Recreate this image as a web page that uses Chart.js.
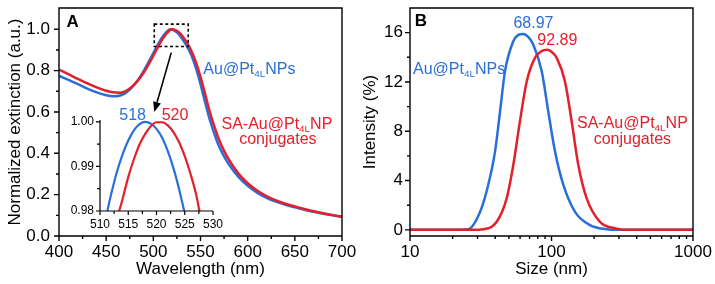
<!DOCTYPE html>
<html lang="en">
<head>
<meta charset="UTF-8">
<title>Extinction spectra and DLS size distribution</title>
<script src="https://cdn.jsdelivr.net/npm/chart.js@4.4.1/dist/chart.umd.min.js"></script>
<style>
  html, body { margin: 0; padding: 0; background: #fff; }
  #wrap { position: relative; width: 715px; height: 284px; overflow: hidden; }
  canvas { position: absolute; }
  #chartA { left: 0; top: 0; }
  #chartB { left: 357px; top: 0; }
  #inset { left: 62px; top: 112px; }
</style>
</head>
<body>
<div id="wrap">
  <canvas id="chartA" width="357" height="284"></canvas>
  <canvas id="chartB" width="358" height="284"></canvas>
  <canvas id="inset" width="170" height="125"></canvas>
</div>
<script>
// ---- panel A : normalized extinction ----
const waveA = [400, 410, 420, 430, 440, 450, 457, 465, 470, 475, 480, 485, 490, 495, 500, 505, 510, 515, 518, 520,
               525, 530, 535, 540, 545, 550, 555, 560, 565, 570, 575, 580, 590, 600, 610, 620, 630, 640, 650, 660,
               670, 680, 690, 700];
const extNPs = [0.775, 0.755, 0.735, 0.713, 0.695, 0.681, 0.676, 0.680, 0.690, 0.708, 0.733, 0.763, 0.800, 0.842, 0.885, 0.928, 0.965, 0.992, 1.000, 0.998,
                0.985, 0.958, 0.922, 0.878, 0.815, 0.735, 0.645, 0.560, 0.490, 0.430, 0.385, 0.347, 0.287, 0.243, 0.210, 0.185, 0.166, 0.151, 0.139, 0.127,
                0.117, 0.108, 0.100, 0.093];
const extConj = [0.805, 0.783, 0.760, 0.738, 0.719, 0.703, 0.695, 0.693, 0.699, 0.713, 0.733, 0.760, 0.792, 0.830, 0.872, 0.915, 0.955, 0.985, 0.997, 1.000,
                 0.993, 0.972, 0.940, 0.898, 0.842, 0.770, 0.685, 0.598, 0.525, 0.462, 0.412, 0.370, 0.303, 0.255, 0.220, 0.193, 0.172, 0.156, 0.143, 0.131,
                 0.120, 0.110, 0.101, 0.093];
const ticksAx = [400, 450, 500, 550, 600, 650, 700];
const minorAx = [425, 475, 525, 575, 625, 675];
const ticksAy = [0, 0.2, 0.4, 0.6, 0.8, 1.0];
const minorAy = [0.1, 0.3, 0.5, 0.7, 0.9];

// ---- inset : zoom on the peak ----
const insetNPsX = [511.3, 512, 513, 514, 515, 516, 517, 518, 519, 520, 521, 522, 523, 524, 524.9];
const insetNPsY = [0.980, 0.9839, 0.9888, 0.9927, 0.9958, 0.9981, 0.9995, 1.0000, 0.9996, 0.9984, 0.9964, 0.9934, 0.9896, 0.9849, 0.980];
const insetConjX = [513.4, 514, 515, 516, 517, 518, 519, 520, 521, 522, 523, 524, 525, 526, 527, 527.6];
const insetConjY = [0.980, 0.9827, 0.9876, 0.9916, 0.9949, 0.9973, 0.9990, 0.9999, 0.9999, 0.9992, 0.9977, 0.9954, 0.9923, 0.9884, 0.9838, 0.980];
const ticksIx = [510, 515, 520, 525, 530];
const minorIx = [512.5, 517.5, 522.5, 527.5];
const ticksIy = [0.98, 0.99, 1.00];
const minorIy = [0.985, 0.995];

// ---- panel B : DLS intensity ----
const sizeNPs = [10, 20, 25.8, 31.3, 35.7, 39.9, 43.3, 46.9, 53.7, 58, 63.2, 68.5, 74.3, 85.3, 94.9, 105.9, 121.3, 146.6, 187, 245, 300, 1000];
const intNPs  = [0, 0, 0.05, 1.46, 3.64, 6.35, 9.6, 12.86, 15.3, 15.8, 15.9, 15.65, 15.03, 12.86, 9.6, 6.35, 3.64, 1.46, 0.38, 0.05, 0, 0];
const sizeConj = [10, 28, 33, 41, 48.2, 53.7, 59.8, 66.8, 76.4, 85, 93.3, 100, 108.9, 124.5, 138.9, 154.7, 177.3, 220, 289, 350, 1000];
const intConj  = [0, 0, 0.05, 0.65, 2.55, 5.26, 8.79, 12.04, 13.95, 14.5, 14.62, 14.45, 13.95, 12.04, 8.79, 5.26, 2.55, 0.65, 0.1, 0, 0];
const ticksBx = [10, 100, 1000];
const minorBx = [20, 30, 40, 50, 60, 70, 80, 90, 200, 300, 400, 500, 600, 700, 800, 900];
const ticksBy = [0, 4, 8, 12, 16];
const minorBy = [2, 6, 10, 14];

const BLUE = '#2a6fd9';
const RED = '#e3202b';

Chart.defaults.font.family = "'Liberation Sans', Arial, Helvetica, sans-serif";
Chart.defaults.color = '#000';

function pts(xs, ys) {
  return xs.map((v, i) => ({ x: v, y: ys[i] }));
}

// frame + outward major/minor ticks
const axesDeco = {
  id: 'axesDeco',
  afterDatasetsDraw(chart, args, o) {
    const { ctx, chartArea: a } = chart;
    const x = chart.scales.x, y = chart.scales.y;
    ctx.save();
    ctx.strokeStyle = '#000';
    ctx.lineWidth = o.lineWidth;
    ctx.beginPath();
    if (o.box) {
      ctx.rect(a.left, a.top, a.right - a.left, a.bottom - a.top);
    } else {
      ctx.moveTo(a.left, a.top);
      ctx.lineTo(a.left, a.bottom);
      ctx.lineTo(a.right, a.bottom);
    }
    x.ticks.forEach(t => {
      const p = x.getPixelForValue(t.value);
      ctx.moveTo(p, a.bottom); ctx.lineTo(p, a.bottom + o.major);
    });
    o.xMinor.forEach(v => {
      const p = x.getPixelForValue(v);
      ctx.moveTo(p, a.bottom); ctx.lineTo(p, a.bottom + o.minor);
    });
    y.ticks.forEach(t => {
      const p = y.getPixelForValue(t.value);
      ctx.moveTo(a.left, p); ctx.lineTo(a.left - o.major, p);
    });
    o.yMinor.forEach(v => {
      const p = y.getPixelForValue(v);
      ctx.moveTo(a.left, p); ctx.lineTo(a.left - o.minor, p);
    });
    ctx.stroke();
    ctx.restore();
  }
};

// text with subscripts, e.g. Au@Pt(4L)NPs
function drawRich(ctx, parts, px, py, n) {
  const size = n.size || 16;
  const weight = n.bold ? 'bold ' : '';
  const fam = Chart.defaults.font.family;
  let total = 0;
  parts.forEach(p => {
    ctx.font = weight + (p[1] ? size * 0.62 : size) + 'px ' + fam;
    total += ctx.measureText(p[0]).width;
  });
  let cx = px;
  if (n.align === 'center') cx = px - total / 2;
  if (n.align === 'right') cx = px - total;
  ctx.fillStyle = n.color;
  ctx.textBaseline = 'middle';
  ctx.textAlign = 'left';
  parts.forEach(p => {
    ctx.font = weight + (p[1] ? size * 0.62 : size) + 'px ' + fam;
    ctx.fillText(p[0], cx, p[1] ? py + size * 0.3 : py);
    cx += ctx.measureText(p[0]).width;
  });
}

const notes = {
  id: 'notes',
  afterDraw(chart, args, o) {
    const { ctx } = chart;
    const x = chart.scales.x, y = chart.scales.y;
    ctx.save();
    (o.texts || []).forEach(n => {
      drawRich(ctx, n.parts, x.getPixelForValue(n.x), y.getPixelForValue(n.y), n);
    });
    if (o.box) {
      const b = o.box;
      const x0 = x.getPixelForValue(b[0]), x1 = x.getPixelForValue(b[1]);
      const y0 = y.getPixelForValue(b[3]), y1 = y.getPixelForValue(b[2]);
      ctx.strokeStyle = '#000';
      ctx.lineWidth = 1.6;
      ctx.setLineDash([3, 2.5]);
      ctx.strokeRect(x0, y0, x1 - x0, y1 - y0);
      ctx.setLineDash([]);
    }
    if (o.arrow) {
      const r = o.arrow;
      const ax = x.getPixelForValue(r[0]), ay = y.getPixelForValue(r[1]);
      const bx = x.getPixelForValue(r[2]), by = y.getPixelForValue(r[3]);
      const ang = Math.atan2(by - ay, bx - ax);
      const hl = 10, hw = 4;
      const ex = bx - hl * Math.cos(ang), ey = by - hl * Math.sin(ang);
      ctx.strokeStyle = '#000';
      ctx.lineWidth = 1.6;
      ctx.beginPath();
      ctx.moveTo(ax, ay); ctx.lineTo(ex, ey);
      ctx.stroke();
      ctx.fillStyle = '#000';
      ctx.beginPath();
      ctx.moveTo(bx, by);
      ctx.lineTo(ex + hw * Math.sin(ang), ey - hw * Math.cos(ang));
      ctx.lineTo(ex - hw * Math.sin(ang), ey + hw * Math.cos(ang));
      ctx.closePath();
      ctx.fill();
    }
    ctx.restore();
  }
};

const sub = (a, s, b) => [[a, 0], [s, 1], [b, 0]];

function lineSet(label, data, color, width, order) {
  return {
    label: label, data: data, borderColor: color, borderWidth: width,
    pointRadius: 0, fill: false, cubicInterpolationMode: 'monotone', order: order
  };
}

function fixTicks(list) {
  return s => { s.ticks = list.map(v => ({ value: v })); };
}
// fixed axis box sizes, no extra label padding pushed onto the layout
function fitX(h) {
  return s => { s.height = h; s.paddingLeft = 0; s.paddingRight = 0; };
}
function fitY(w) {
  return s => { s.width = w; s.paddingTop = 0; s.paddingBottom = 0; };
}
const noGrid = { display: false, drawTicks: false, tickLength: 0 };

// ---------- chart A ----------
new Chart(document.getElementById('chartA'), {
  type: 'line',
  data: {
    datasets: [
      lineSet('Au@Pt4L NPs', pts(waveA, extNPs), BLUE, 2.5, 1),
      lineSet('SA-Au@Pt4L NP conjugates', pts(waveA, extConj), RED, 2.5, 0)
    ]
  },
  options: {
    responsive: false, animation: false, devicePixelRatio: 1,
    layout: { padding: { top: 8, right: 15, left: 0, bottom: 0 } },
    plugins: {
      legend: { display: false }, tooltip: { enabled: false },
      axesDeco: { box: true, lineWidth: 1.4, major: 5, minor: 3, xMinor: minorAx, yMinor: minorAy },
      notes: {
        texts: [
          { parts: [['A', 0]], x: 408, y: 1.034, align: 'left', bold: true, color: '#000', size: 17 },
          { parts: sub('Au@Pt', '4L', 'NPs'), x: 553, y: 0.806, align: 'left', color: BLUE },
          { parts: sub('SA-Au@Pt', '4L', 'NP'), x: 631, y: 0.541, align: 'center', color: RED },
          { parts: [['conjugates', 0]], x: 632, y: 0.465, align: 'center', color: RED },
          { parts: [['518', 0]], x: 478, y: 0.582, align: 'center', color: BLUE },
          { parts: [['520', 0]], x: 523, y: 0.582, align: 'center', color: RED }
        ],
        box: [501, 537, 0.917, 1.025],
        arrow: [519, 0.887, 501, 0.60]
      }
    },
    scales: {
      x: {
        type: 'linear', min: 400, max: 700,
        afterBuildTicks: fixTicks(ticksAx),
        afterFit: fitX(48),
        grid: noGrid, border: { display: false },
        ticks: { font: { size: 17 }, padding: 6, maxRotation: 0, callback: v => String(v) },
        title: { display: true, text: 'Wavelength (nm)', font: { size: 17 }, padding: { top: 0, bottom: 4 } }
      },
      y: {
        min: 0, max: 1.103,
        afterBuildTicks: fixTicks(ticksAy),
        afterFit: fitY(59),
        grid: noGrid, border: { display: false },
        ticks: { font: { size: 17 }, padding: 9, callback: v => v.toFixed(1) },
        title: { display: true, text: 'Normalized extinction (a.u.)', font: { size: 17 }, padding: { top: 5, bottom: 0 } }
      }
    }
  },
  plugins: [axesDeco, notes]
});

// ---------- inset ----------
new Chart(document.getElementById('inset'), {
  type: 'line',
  data: {
    datasets: [
      lineSet('Au@Pt4L NPs', pts(insetNPsX, insetNPsY), BLUE, 2.2, 1),
      lineSet('SA-Au@Pt4L NP conjugates', pts(insetConjX, insetConjY), RED, 2.2, 0)
    ]
  },
  options: {
    responsive: false, animation: false, devicePixelRatio: 1,
    layout: { padding: { top: 8, right: 19, left: 0, bottom: 0 } },
    plugins: {
      legend: { display: false }, tooltip: { enabled: false },
      axesDeco: { box: false, lineWidth: 1.2, major: 4, minor: 3, xMinor: minorIx, yMinor: minorIy }
    },
    scales: {
      x: {
        type: 'linear', min: 510, max: 530,
        afterBuildTicks: fixTicks(ticksIx),
        afterFit: fitX(26),
        grid: noGrid, border: { display: false },
        ticks: { font: { size: 12 }, padding: 6, maxRotation: 0, callback: v => String(v) }
      },
      y: {
        min: 0.98, max: 1.0004,
        afterBuildTicks: fixTicks(ticksIy),
        afterFit: fitY(38),
        grid: noGrid, border: { display: false },
        ticks: { font: { size: 12 }, padding: 6, callback: v => v.toFixed(2) }
      }
    }
  },
  plugins: [axesDeco]
});

// ---------- chart B ----------
new Chart(document.getElementById('chartB'), {
  type: 'line',
  data: {
    datasets: [
      lineSet('Au@Pt4L NPs', pts(sizeNPs, intNPs), BLUE, 2.5, 1),
      lineSet('SA-Au@Pt4L NP conjugates', pts(sizeConj, intConj), RED, 2.5, 0)
    ]
  },
  options: {
    responsive: false, animation: false, devicePixelRatio: 1,
    layout: { padding: { top: 8, right: 22, left: 0, bottom: 0 } },
    plugins: {
      legend: { display: false }, tooltip: { enabled: false },
      axesDeco: { box: true, lineWidth: 1.4, major: 5, minor: 3, xMinor: minorBx, yMinor: minorBy },
      notes: {
        texts: [
          { parts: [['B', 0]], x: 10.8, y: 16.94, align: 'left', bold: true, color: '#000', size: 17 },
          { parts: [['68.97', 0]], x: 74.6, y: 16.7, align: 'center', color: BLUE },
          { parts: [['92.89', 0]], x: 110, y: 15.35, align: 'center', color: RED },
          { parts: sub('Au@Pt', '4L', 'NPs'), x: 10.5, y: 13.03, align: 'left', color: BLUE },
          { parts: sub('SA-Au@Pt', '4L', 'NP'), x: 373, y: 8.64, align: 'center', color: RED },
          { parts: [['conjugates', 0]], x: 373, y: 7.3, align: 'center', color: RED }
        ]
      }
    },
    scales: {
      x: {
        type: 'logarithmic', min: 10, max: 1000,
        afterBuildTicks: fixTicks(ticksBx),
        afterFit: fitX(48),
        grid: noGrid, border: { display: false },
        ticks: { font: { size: 17 }, padding: 6, maxRotation: 0, autoSkip: false, callback: v => String(v) },
        title: { display: true, text: 'Size (nm)', font: { size: 17 }, padding: { top: 0, bottom: 4 } }
      },
      y: {
        min: -0.5, max: 18,
        afterBuildTicks: fixTicks(ticksBy),
        afterFit: fitY(53),
        grid: noGrid, border: { display: false },
        ticks: { font: { size: 17 }, padding: 7, callback: v => String(v) },
        title: { display: true, text: 'Intensity (%)', font: { size: 17 }, padding: { top: 3, bottom: 0 } }
      }
    }
  },
  plugins: [axesDeco, notes]
});
</script>
</body>
</html>
